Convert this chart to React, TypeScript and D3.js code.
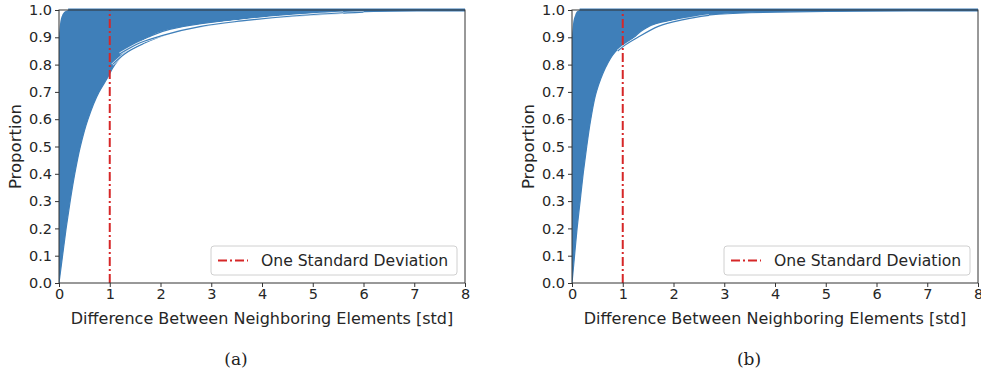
import React, { useRef, useEffect } from 'react';
import * as d3 from 'd3';

// proportion levels shared by every envelope
const levels = [0, 0.1, 0.2, 0.3, 0.4, 0.5, 0.6, 0.7, 0.75, 0.8, 0.85, 0.9, 0.93, 0.95, 0.97, 0.98, 0.99, 0.995, 1.0];

// panel (a): leftmost and rightmost curve of the bundle (x in std at each level)
const leftA = [0, 0, 0, 0, 0, 0, 0, 0, 0, 0, 0, 0, 0.01, 0.02, 0.04, 0.06, 0.09, 0.12, 0.18];
const rightA = [0, 0.07, 0.14, 0.22, 0.31, 0.42, 0.57, 0.79, 0.95, 1.1, 1.34, 1.75, 2.2, 2.8, 3.8, 4.5, 5.4, 6.2, 7.5];

// panel (b)
const leftB = [0, 0, 0, 0, 0, 0, 0, 0, 0, 0, 0, 0, 0.01, 0.02, 0.04, 0.06, 0.08, 0.1, 0.15];
const rightB = [0, 0.05, 0.1, 0.16, 0.22, 0.29, 0.37, 0.48, 0.57, 0.69, 0.87, 1.22, 1.42, 1.65, 2.2, 2.6, 3.5, 5.0, 7.5];

// individual curves that stand apart from the bundle: [x, proportion]
const straysA: [number, number][][] = [
  [[1.05, 0.8], [1.3, 0.84], [1.7, 0.88], [2.2, 0.915], [3, 0.945], [4, 0.968], [5, 0.982], [6, 0.992]],
  [[1.2, 0.84], [1.6, 0.88], [2.1, 0.91], [2.8, 0.94], [3.6, 0.96], [4.6, 0.978], [5.6, 0.99]],
];
const straysB: [number, number][][] = [
  [[0.9, 0.85], [1.0, 0.865], [1.3, 0.9], [1.7, 0.94], [2.2, 0.965], [2.7, 0.98]],
];

const xTicks = [0, 1, 2, 3, 4, 5, 6, 7, 8];
const yTicks = [0, 0.1, 0.2, 0.3, 0.4, 0.5, 0.6, 0.7, 0.8, 0.9, 1.0];
const stdLine = 1;
const legendLabel = 'One Standard Deviation';
const xLabel = 'Difference Between Neighboring Elements [std]';
const yLabel = 'Proportion';

const panels = [
  { left: leftA, right: rightA, strays: straysA, x0: 59, caption: '(a)' },
  { left: leftB, right: rightB, strays: straysB, x0: 572, caption: '(b)' },
];

const blue = '#3f7fb9';
const red = '#d62728';
const font = 'DejaVu Sans, sans-serif';

export default function App() {
  const svgRef = useRef<SVGSVGElement>(null);

  useEffect(() => {
    const svg = d3.select(svgRef.current);
    svg.selectAll('*').remove();
    const plotW = 406;
    const top = 10;
    const bottom = 283;

    panels.forEach((p) => {
      const x = d3.scaleLinear().domain([0, 8]).range([p.x0, p.x0 + plotW]);
      const y = d3.scaleLinear().domain([0, 1]).range([bottom, top]);
      const g = svg.append('g');

      const clipId = 'clip' + p.caption.replace(/\W/g, '');
      g.append('clipPath').attr('id', clipId)
        .append('rect').attr('x', p.x0).attr('y', top - 2).attr('width', plotW).attr('height', bottom - top + 2);

      const body = g.append('g').attr('clip-path', `url(#${clipId})`);

      // bundle of curves as a band between the leftmost and rightmost curve
      const area = d3.area<number>()
        .y((d) => y(d))
        .x0((d, i) => x(p.left[i]))
        .x1((d, i) => x(p.right[i]))
        .curve(d3.curveMonotoneY);
      body.append('path').attr('d', area(levels)).attr('fill', blue);

      const edge = d3.line<number>().y((d) => y(d)).x((d, i) => x(p.right[i])).curve(d3.curveMonotoneY);
      body.append('path').attr('d', edge(levels)).attr('fill', 'none').attr('stroke', blue).attr('stroke-width', 1.2);

      // the curves that are saturated at 1.0 along the top
      body.append('line').attr('x1', x(p.left[p.left.length - 1])).attr('x2', x(8))
        .attr('y1', y(1)).attr('y2', y(1)).attr('stroke', blue).attr('stroke-width', 3);

      const strayLine = d3.line<[number, number]>().x((d) => x(d[0])).y((d) => y(d[1])).curve(d3.curveMonotoneX);
      p.strays.forEach((s) => {
        body.append('path').attr('d', strayLine(s)).attr('fill', 'none').attr('stroke', '#ffffff').attr('stroke-width', 2.6).attr('opacity', 0.85);
        body.append('path').attr('d', strayLine(s)).attr('fill', 'none').attr('stroke', blue).attr('stroke-width', 1.2);
      });

      // one standard deviation marker
      g.append('line').attr('x1', x(stdLine)).attr('x2', x(stdLine)).attr('y1', y(0)).attr('y2', y(1))
        .attr('stroke', red).attr('stroke-width', 2).attr('stroke-dasharray', '9,3,2,3');

      // frame
      g.append('rect').attr('x', p.x0).attr('y', top).attr('width', plotW).attr('height', bottom - top)
        .attr('fill', 'none').attr('stroke', '#333').attr('stroke-width', 1);

      // axes
      const xAxis = g.append('g').attr('transform', `translate(0,${bottom})`)
        .call(d3.axisBottom(x).tickValues(xTicks).tickFormat(d3.format('d')).tickSize(4).tickPadding(2));
      const yAxis = g.append('g').attr('transform', `translate(${p.x0},0)`)
        .call(d3.axisLeft(y).tickValues(yTicks).tickFormat(d3.format('.1f')).tickSize(4).tickPadding(3));
      [xAxis, yAxis].forEach((a) => {
        a.select('.domain').remove();
        a.selectAll('line').attr('stroke', '#333');
        a.selectAll('text').attr('fill', '#262626').style('font-family', font).style('font-size', '14.5px');
      });

      g.append('text').attr('x', p.x0 + plotW / 2).attr('y', 324).attr('text-anchor', 'middle')
        .style('font-family', font).style('font-size', '16px').attr('fill', '#262626').text(xLabel);
      g.append('text').attr('transform', `translate(${p.x0 - 38},${(top + bottom) / 2}) rotate(-90)`)
        .attr('text-anchor', 'middle').style('font-family', font).style('font-size', '16.5px')
        .attr('fill', '#262626').text(yLabel);

      // legend
      const lx = p.x0 + 152;
      const ly = 246;
      g.append('rect').attr('x', lx).attr('y', ly).attr('width', 246).attr('height', 29).attr('rx', 3)
        .attr('fill', 'white').attr('fill-opacity', 0.85).attr('stroke', '#d0d0d0');
      g.append('line').attr('x1', lx + 7).attr('x2', lx + 37).attr('y1', ly + 14.5).attr('y2', ly + 14.5)
        .attr('stroke', red).attr('stroke-width', 2).attr('stroke-dasharray', '9,3,2,3');
      g.append('text').attr('x', lx + 50).attr('y', ly + 20).style('font-family', font).style('font-size', '15.6px')
        .attr('fill', '#262626').text(legendLabel);

      g.append('text').attr('x', p.x0 + 177).attr('y', 365).attr('text-anchor', 'middle')
        .style('font-family', 'DejaVu Serif, serif').style('font-size', '17px').attr('fill', '#222').text(p.caption);
    });
  }, []);

  return (
    <svg ref={svgRef} width={981} height={375}
      style={{ position: 'absolute', left: 0, top: 0, background: 'white' }} />
  );
}
